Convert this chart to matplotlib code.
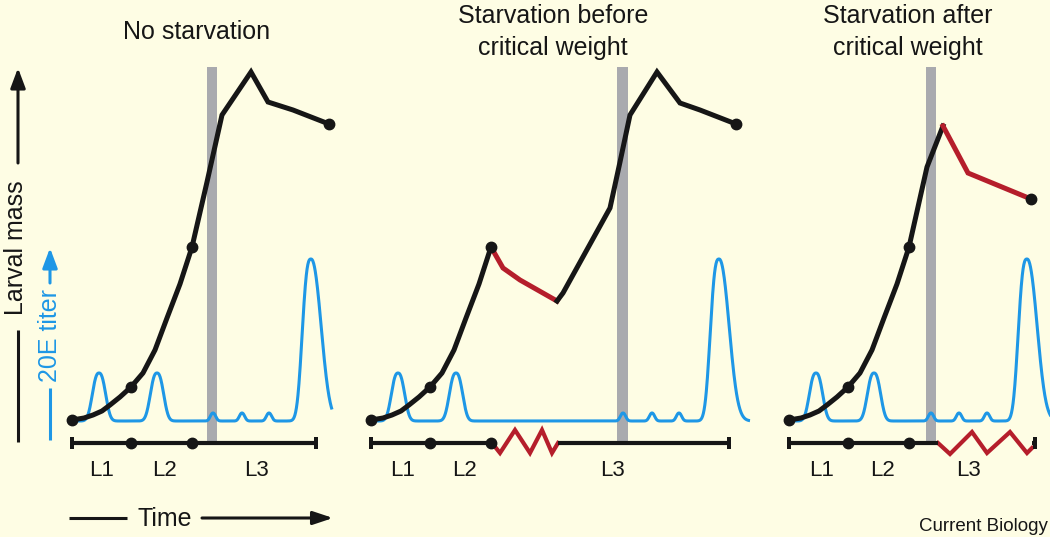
import numpy as np
import matplotlib
matplotlib.use("Agg")
import matplotlib.pyplot as plt
from matplotlib.patches import Rectangle

plt.rcParams['font.family'] = ['Liberation Sans', 'DejaVu Sans']

# ---------------- data (schematic units: time -> right, value -> up) ----------------
titles = ["No starvation", "Starvation before\ncritical weight", "Starvation after\ncritical weight"]
stage_labels = ["L1", "L2", "L3"]

# shared early growth (L1 and L2), time / larval mass
growth_t = [0, 12, 21, 30, 38, 48, 59, 71, 83, 95, 108, 120]
growth_m = [0, 2, 5, 9, 15, 23, 33, 47, 70, 102, 136, 173]

# panel 1: no starvation
p1_t = [120, 135, 150, 179, 196, 221, 257]
p1_m = [173, 238, 305, 348, 318, 310, 296]

# panel 2: starvation before critical weight
p2_red_t = [120, 132, 149, 186]
p2_red_m = [173, 152, 140, 119]
p2_t = [186, 192, 239, 249, 259, 286, 309, 329, 365]
p2_m = [119, 127, 212, 258, 305, 348, 317, 310, 296]

# panel 3: starvation after critical weight
p3_t = [120, 138, 154]
p3_m = [173, 253, 294]
p3_red_t = [154, 179, 242]
p3_red_m = [294, 247, 221]

# mass dots (molts and end points)
dots_t = [[0, 59, 120, 257], [0, 59, 120, 365], [0, 59, 120, 242]]
dots_m = [[0, 33, 173, 296], [0, 33, 173, 296], [0, 33, 173, 221]]

# 20E titer peaks: centre time, height
titer_c = [[27, 85, 141, 170, 197, 239],
           [27, 85, 252, 281, 308, 348],
           [27, 85, 142, 170, 198, 238]]
titer_h = [[48, 48, 8, 8, 8, 162],
           [48, 48, 8, 8, 8, 162],
           [48, 48, 8, 8, 8, 162]]
titer_range = [(6, 260), (6, 379), (6, 262)]

# critical weight time
crit_t = [140, 251.5, 142]

# timeline: molt times, end times, starvation intervals
molt_t = [59, 120]
timeline_end = [244, 358, 246]
starve_t = [None, (121, 187), (149, 243)]
zig_dt = [None, [0, 8, 23, 38, 50, 60, 66], [0, 12, 34, 49, 72, 89, 94]]
zig_dy = [None, [0, -10, 13, -10, 13, -10, 0], [0, -11, 11, -10, 11, -10, -5]]

# ---------------- layout / style ----------------
W, H = 1050, 537
x0s = [72, 371, 789]
base_y = 420
titer_base = 421
line_y = 443
bg = "#FEFDE4"
black = "#161616"
blue = "#1E97E6"
red = "#B51E2B"
grey = "#A9AAAE"

fig = plt.figure(figsize=(W / 100, H / 100), dpi=100, facecolor=bg)
ax = fig.add_axes([0, 0, 1, 1])
ax.set_xlim(0, W)
ax.set_ylim(H, 0)
ax.axis("off")
ax.set_facecolor(bg)


def X(x0, t):
    return x0 + np.asarray(t, dtype=float)


def Y(m):
    return base_y - np.asarray(m, dtype=float)


def titer_curve(cs, hs, rng):
    t = np.linspace(rng[0], rng[1], 1000)
    v = np.zeros_like(t)
    for c, h in zip(cs, hs):
        if h > 100:
            wl, wr, pl, pr = 10.5, 13.5, 2.8, 2.2
        elif h > 20:
            wl, wr, pl, pr = 8.3, 8.3, 2.5, 2.5
        else:
            wl, wr, pl, pr = 3.6, 3.6, 2.2, 2.2
        d = t - c
        w = np.where(d < 0, wl, wr)
        p = np.where(d < 0, pl, pr)
        v += h * np.exp(-(np.abs(d) / w) ** p)
    return t, v


lw_mass = 3.6
lw_blue = 2.2
lw_line = 3.0

for i, x0 in enumerate(x0s):
    # critical weight bar
    xc = x0 + crit_t[i]
    ax.add_patch(Rectangle((xc - 5.3, 67), 10.6, 441 - 67, facecolor=grey,
                           edgecolor="none", zorder=1))
    # titer
    tt, vv = titer_curve(titer_c[i], titer_h[i], titer_range[i])
    ax.plot(X(x0, tt), titer_base - vv, color=blue, lw=lw_blue, zorder=2,
            solid_capstyle="butt")
    # mass curve
    ax.plot(X(x0, growth_t), Y(growth_m), color=black, lw=lw_mass, zorder=3,
            solid_joinstyle="round", solid_capstyle="round")
    if i == 0:
        ax.plot(X(x0, p1_t), Y(p1_m), color=black, lw=lw_mass, zorder=3,
                solid_joinstyle="miter")
    elif i == 1:
        ax.plot(X(x0, p2_red_t), Y(p2_red_m), color=red, lw=lw_mass, zorder=3,
                solid_joinstyle="miter")
        ax.plot(X(x0, p2_t), Y(p2_m), color=black, lw=lw_mass, zorder=3,
                solid_joinstyle="miter")
    else:
        ax.plot(X(x0, p3_t), Y(p3_m), color=black, lw=lw_mass, zorder=3,
                solid_joinstyle="miter")
        ax.plot(X(x0, p3_red_t), Y(p3_red_m), color=red, lw=lw_mass, zorder=3,
                solid_joinstyle="miter")
    ax.plot(X(x0, dots_t[i]), Y(dots_m[i]), "o", color=black, ms=7.5, zorder=4)

    # timeline
    end = timeline_end[i]
    if starve_t[i] is None:
        segs = [(0, end)]
    else:
        s0, s1 = starve_t[i]
        segs = [(0, s0), (s1, end)]
        zx = x0 + s0 + np.asarray(zig_dt[i], float)
        zy = line_y - np.asarray(zig_dy[i], float)
        ax.plot(zx, zy, color=red, lw=lw_line, zorder=3, solid_joinstyle="miter")
    for a, b in segs:
        if b > a:
            ax.plot([x0 + a, x0 + b], [line_y, line_y], color=black, lw=lw_line,
                    zorder=3, solid_capstyle="butt")
    for tcap in (0, end):
        ax.add_patch(Rectangle((x0 + tcap - 2, line_y - 6), 4, 12,
                               facecolor=black, edgecolor="none", zorder=3))
    ax.plot(X(x0, molt_t), [line_y] * len(molt_t), "o", color=black, ms=7.5, zorder=4)

# stage labels
label_x = [[102, 165, 257], [403, 464, 613], [822, 883, 968]]
for xs in label_x:
    for lx, s in zip(xs, stage_labels):
        ax.text(lx, 476, s, fontsize=16, ha="center", va="baseline", color=black)

# titles
ax.text(197, 39, titles[0], fontsize=18, ha="center", va="baseline", color=black)
for cx, ttl in ((553, titles[1]), (908, titles[2])):
    l1, l2 = ttl.split("\n")
    ax.text(cx, 23, l1, fontsize=18, ha="center", va="baseline", color=black)
    ax.text(cx, 55, l2, fontsize=18, ha="center", va="baseline", color=black)

# y axis labels and arrows
ax.text(23, 248, "Larval mass", fontsize=18, rotation=90, rotation_mode="anchor",
        ha="center", va="baseline", color=black)
ax.text(57, 336, "20E titer", fontsize=18, rotation=90, rotation_mode="anchor",
        ha="center", va="baseline", color=blue)

arrow_kw = dict(arrowstyle="-|>,head_length=1.2,head_width=0.45", mutation_scale=10,
                shrinkA=0, shrinkB=0)
ax.plot([18, 18], [442, 330], color=black, lw=2.2, solid_capstyle="butt")
ax.annotate("", xy=(18, 68), xytext=(18, 163),
            arrowprops=dict(color=black, lw=2.2, **arrow_kw))
ax.plot([50, 50], [440, 388], color=blue, lw=2.2, solid_capstyle="butt")
ax.annotate("", xy=(50, 248), xytext=(50, 283),
            arrowprops=dict(color=blue, lw=2.2, **arrow_kw))

# time axis
ax.text(165, 526, "Time", fontsize=18, ha="center", va="baseline", color=black)
ax.plot([69, 127], [518, 518], color=black, lw=2.2, solid_capstyle="butt")
ax.annotate("", xy=(333, 518), xytext=(202, 518),
            arrowprops=dict(color=black, lw=2.2,
                            arrowstyle="-|>,head_length=1.2,head_width=0.4",
                            mutation_scale=10, shrinkA=0, shrinkB=0))

ax.text(1048, 531, "Current Biology", fontsize=13.5, ha="right", va="baseline",
        color=black)

fig.savefig("out.png", dpi=100, facecolor=bg)
